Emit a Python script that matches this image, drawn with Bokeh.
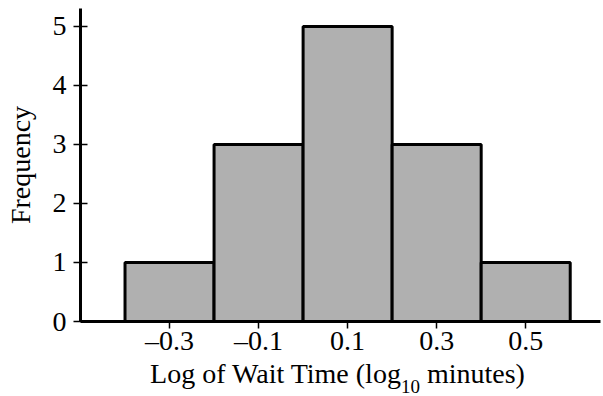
from bokeh.plotting import figure
from bokeh.models import FixedTicker, Range1d, Div
from bokeh.layouts import column
from bokeh.embed import file_html
from bokeh.resources import INLINE

# Data
bin_centers = [-0.3, -0.1, 0.1, 0.3, 0.5]
frequencies = [1, 3, 5, 3, 1]
bin_width = 0.2
x_tick_labels = ["\u20130.3", "\u20130.1", "0.1", "0.3", "0.5"]
y_ticks = [0, 1, 2, 3, 4, 5]
x_label_main = "Log of Wait Time (log"
x_label_sub = "10"
x_label_end = " minutes)"
y_label = "Frequency"

FONT = "Liberation Serif"

p = figure(width=603, height=362, output_backend="svg", toolbar_location=None,
           x_range=Range1d(-0.5, 0.668), y_range=Range1d(0, 5.305),
           min_border_left=80, min_border_right=3, min_border_top=8, min_border_bottom=41)
p.outline_line_color = None
p.xgrid.visible = False
p.ygrid.visible = False
p.background_fill_color = "white"
p.border_fill_color = "white"

lefts = [c - bin_width / 2 for c in bin_centers]
rights = [c + bin_width / 2 for c in bin_centers]
p.quad(left=lefts, right=rights, bottom=0, top=frequencies,
       fill_color="#b0b0b0", line_color="black", line_width=3)

for ax in (p.xaxis, p.yaxis):
    ax.axis_line_width = 3
    ax.axis_line_color = "black"
    ax.major_tick_line_width = 1.5
    ax.major_tick_line_color = "black"
    ax.minor_tick_line_color = None
    ax.major_label_text_font = FONT
    ax.major_label_text_font_size = "28px"
    ax.major_label_text_color = "black"

p.xaxis.ticker = FixedTicker(ticks=bin_centers)
p.xaxis.major_label_overrides = {c: t for c, t in zip(bin_centers, x_tick_labels)}
p.xaxis.major_tick_in = 0
p.xaxis.major_tick_out = 7
p.xaxis.major_label_standoff = -4

p.yaxis.ticker = FixedTicker(ticks=y_ticks)
p.yaxis.major_tick_in = 7
p.yaxis.major_tick_out = 7
p.yaxis.major_label_standoff = 7
p.yaxis.axis_label = y_label
p.yaxis.axis_label_text_font = FONT
p.yaxis.axis_label_text_font_size = "28px"
p.yaxis.axis_label_text_font_style = "normal"
p.yaxis.axis_label_text_color = "black"
p.yaxis.axis_label_standoff = 14

xlabel = Div(
    text=(f'<span>{x_label_main}<span style="font-size:19px;display:inline-block;'
          f'vertical-align:baseline;transform:translateY(10px);line-height:0">'
          f'{x_label_sub}</span>{x_label_end}</span>'),
    width=535, height=34, margin=(0, 0, 0, 70),
    styles={"font-family": FONT, "font-size": "28px", "line-height": "24px",
            "text-align": "center", "color": "black", "white-space": "nowrap",
            "overflow": "visible"},
)

layout = column(p, xlabel, spacing=0)
open("out.html", "w").write(file_html(layout, INLINE))
